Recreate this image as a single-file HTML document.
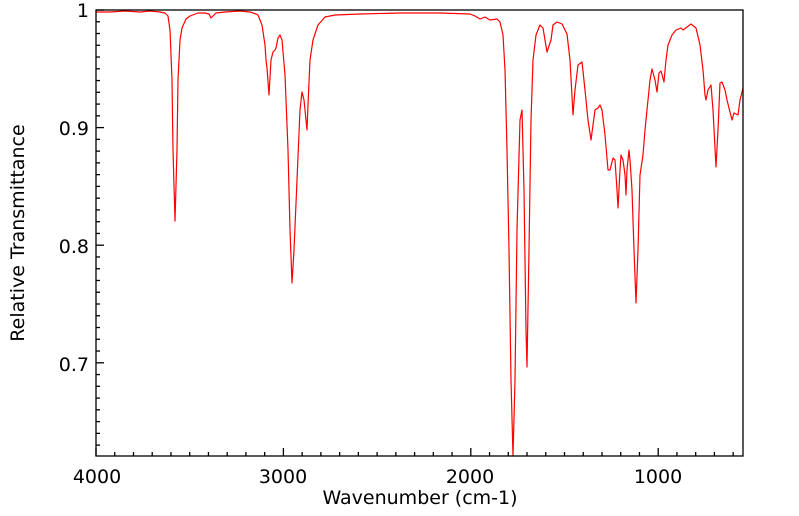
<!DOCTYPE html>
<html><head><meta charset="utf-8"><style>
html,body{margin:0;padding:0;background:#fff;}
svg{display:block;font-family:"DejaVu Sans","Liberation Sans",sans-serif;}
</style></head><body>
<svg id="s" width="799" height="516" viewBox="0 0 799 516" xmlns="http://www.w3.org/2000/svg">
<rect width="799" height="516" fill="#fff"/>
<g id="ticks" stroke="#000" stroke-width="1.3"></g>
<polyline fill="none" stroke="#ff0000" stroke-width="1.2" stroke-linejoin="round" points="
96,12 110,12 125,11 140,12 150,11 160,12 165,13 168,16 170,30 172,80 173,150 175,221 177,150 178,80 180,40 182,28 186,19 190,16 198,13 205,13 209,14 211,18 213,16 216,13 225,12 240,11 250,12 256,14 258,15 262,25 265,45 266,60 267,68 269,95 271,60 273,52 275,50 276,48 278,38 280,35 282,40 285,75 288,150 290,230 292,283 294,250 297,180 300,110 302,92 304,100 307,130 308,105 310,60 313,40 318,25 325,17 335,15 360,14 400,13 440,13 470,14 475,16 480,19 485,17 490,20 497,19 500,22 503,35 505,70 507,150 509,250 511,380 513,456 515,380 517,230 520,120 522,110 524,190 526,330 527,367 529,250 531,120 533,60 536,35 540,25 543,28 545,40 547,52 549,46 551,40 553,25 557,22 562,24 567,34 570,60 573,115 575,90 578,65 582,62 585,90 588,120 591,140 595,110 598,108 600,105 602,110 605,135 608,170 610,170 613,158 615,160 617,190 618,208 620,170 621,155 623,160 625,175 626,195 627,170 629,150 630,160 632,190 634,250 636,303 638,250 640,175 643,155 645,130 648,100 650,80 652,69 655,80 657,92 659,73 661,71 664,82 666,60 668,45 672,35 676,30 681,28 683,30 687,27 691,24 696,28 700,45 703,70 705,95 706,100 708,90 711,85 713,110 716,167 718,130 720,83 722,82 725,90 727,100 730,112 732,120 734,113 736,114 738,115 740,100 743,88"/>
<rect x="96" y="10" width="647" height="446" fill="none" stroke="#000" stroke-width="1.3"/>
<g font-size="19" fill="#000" text-anchor="end">
<text x="89" y="17">1</text>
<text x="89" y="135">0.9</text>
<text x="89" y="253">0.8</text>
<text x="89" y="371">0.7</text>
</g>
<g font-size="19" fill="#000" text-anchor="middle">
<text x="97" y="483">4000</text>
<text x="283" y="483">3000</text>
<text x="470" y="483">2000</text>
<text x="658" y="483">1000</text>
<text x="420" y="504">Wavenumber (cm-1)</text>
<text transform="translate(24,233) rotate(-90)">Relative Transmittance</text>
</g>
</svg>
<script>
var g=document.getElementById('ticks'),h='';
for(var i=0;i<=37;i++){var x=96+i*18.74;if(x>743)break;var L=(i%10==0)?8:4;h+='<line x1="'+x+'" y1="456" x2="'+x+'" y2="'+(456-L)+'"/>';}
for(var j=0;j<=38;j++){var y=10+j*11.76;if(y>456)break;var L=(j%10==0)?8:4;h+='<line x1="96" y1="'+y+'" x2="'+(96+L)+'" y2="'+y+'"/>';}
g.innerHTML=h;
</script>
</body></html>
